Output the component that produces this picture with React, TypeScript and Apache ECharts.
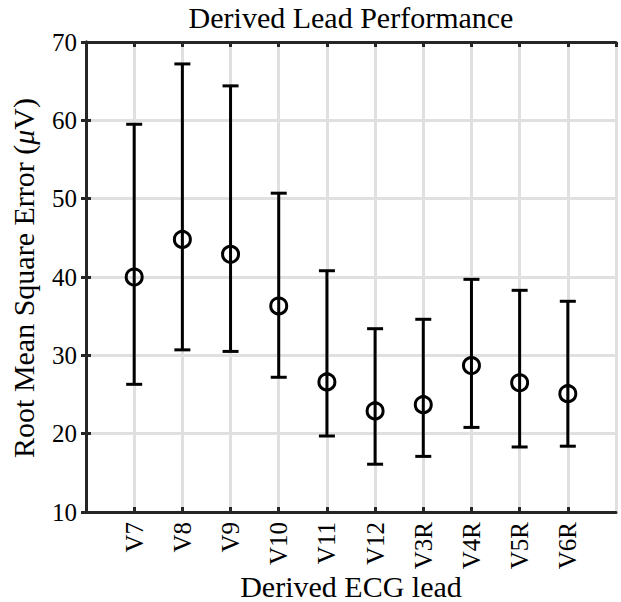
import React, { useEffect, useRef } from "react";
import * as echarts from "echarts";

const categories = ["V7", "V8", "V9", "V10", "V11", "V12", "V3R", "V4R", "V5R", "V6R"];
const meanValues = [40.0, 44.8, 42.9, 36.3, 26.6, 22.9, 23.7, 28.7, 26.5, 25.1];
const upperValues = [59.5, 67.2, 64.4, 50.7, 40.8, 33.4, 34.6, 39.7, 38.3, 36.9];
const lowerValues = [26.3, 30.7, 30.5, 27.2, 19.7, 16.1, 17.1, 20.8, 18.3, 18.4];
const yMin = 10;
const yMax = 70;
const yStep = 10;
const titleText = "Derived Lead Performance";
const xLabelText = "Derived ECG lead";

const FONT = "'Liberation Serif', 'Times New Roman', serif";
const AXIS_COLOR = "#262626";
const GRID_COLOR = "#e0e0e0";

export default function App() {
  const ref = useRef<HTMLDivElement>(null);
  useEffect(() => {
    if (!ref.current) return;
    const chart = echarts.init(ref.current, undefined, { renderer: "svg" });
    const xs = categories.map((_, i) => i + 1);
    const errData = xs.map((x, i) => [x, lowerValues[i], upperValues[i]]);
    const meanData = xs.map((x, i) => [x, meanValues[i]]);

    const commonX = {
      type: "value",
      min: 0,
      max: categories.length + 1,
      interval: 1,
    };
    const commonY = { type: "value", min: yMin, max: yMax, interval: yStep };

    chart.setOption({
      animation: false,
      backgroundColor: "#ffffff",
      grid: { left: 86, right: 5, top: 42, bottom: 90, containLabel: false },
      xAxis: [
        {
          ...commonX,
          position: "bottom",
          axisLine: { show: true, lineStyle: { color: AXIS_COLOR, width: 3 } },
          axisTick: {
            show: true,
            inside: true,
            length: 5,
            lineStyle: { color: AXIS_COLOR, width: 3 },
          },
          splitLine: { show: true, lineStyle: { color: GRID_COLOR, width: 3 } },
          axisLabel: {
            rotate: 90,
            margin: 10,
            fontFamily: FONT,
            fontSize: 25,
            color: "#000",
            showMinLabel: false,
            showMaxLabel: false,
            formatter: (v: number) => categories[Math.round(v) - 1] || "",
          },
        },
        {
          ...commonX,
          position: "top",
          axisLine: { show: true, lineStyle: { color: AXIS_COLOR, width: 3 } },
          axisTick: {
            show: true,
            inside: true,
            length: 5,
            lineStyle: { color: AXIS_COLOR, width: 3 },
          },
          splitLine: { show: false },
          axisLabel: { show: false },
        },
      ],
      yAxis: [
        {
          ...commonY,
          position: "left",
          axisLine: { show: true, lineStyle: { color: AXIS_COLOR, width: 3 } },
          axisTick: {
            show: true,
            inside: true,
            length: 5,
            lineStyle: { color: AXIS_COLOR, width: 3 },
          },
          splitLine: { show: true, lineStyle: { color: GRID_COLOR, width: 3 } },
          axisLabel: { margin: 9, fontFamily: FONT, fontSize: 25, color: "#000" },
        },
        {
          ...commonY,
          position: "right",
          axisLine: { show: true, lineStyle: { color: AXIS_COLOR, width: 3 } },
          axisTick: {
            show: true,
            inside: true,
            length: 5,
            lineStyle: { color: AXIS_COLOR, width: 3 },
          },
          splitLine: { show: false },
          axisLabel: { show: false },
        },
      ],
      graphic: [
        {
          type: "text",
          x: 351,
          y: 17,
          style: {
            text: titleText,
            fontFamily: FONT,
            fontSize: 30,
            fill: "#000",
            textAlign: "center",
            textVerticalAlign: "middle",
          },
        },
        {
          type: "text",
          x: 351,
          y: 586,
          style: {
            text: xLabelText,
            fontFamily: FONT,
            fontSize: 30,
            fill: "#000",
            textAlign: "center",
            textVerticalAlign: "middle",
          },
        },
        {
          type: "text",
          x: 23,
          y: 278,
          rotation: Math.PI / 2,
          style: {
            text: "Root Mean Square Error ({i|μ}V)",
            fontFamily: FONT,
            fontSize: 30,
            fill: "#000",
            textAlign: "center",
            textVerticalAlign: "middle",
            rich: {
              i: { fontFamily: FONT, fontSize: 30, fontStyle: "italic", fill: "#000" },
            },
          },
        },
      ],
      series: [
        {
          type: "custom",
          xAxisIndex: 0,
          yAxisIndex: 0,
          data: errData,
          encode: { x: 0, y: [1, 2] },
          z: 3,
          renderItem: (params: any, api: any) => {
            const x = api.value(0);
            const lo = api.coord([x, api.value(1)]);
            const hi = api.coord([x, api.value(2)]);
            const hw = 8;
            const style = { stroke: "#000", lineWidth: 3 };
            return {
              type: "group",
              children: [
                { type: "line", shape: { x1: lo[0], y1: lo[1], x2: hi[0], y2: hi[1] }, style },
                { type: "line", shape: { x1: hi[0] - hw, y1: hi[1], x2: hi[0] + hw, y2: hi[1] }, style },
                { type: "line", shape: { x1: lo[0] - hw, y1: lo[1], x2: lo[0] + hw, y2: lo[1] }, style },
              ],
            };
          },
        },
        {
          type: "scatter",
          xAxisIndex: 0,
          yAxisIndex: 0,
          data: meanData,
          symbol: "circle",
          symbolSize: 16,
          z: 4,
          itemStyle: { color: "rgba(0,0,0,0)", borderColor: "#000", borderWidth: 3, opacity: 1 },
        },
      ],
    });
    return () => chart.dispose();
  }, []);
  return (
    <div
      ref={ref}
      style={{ position: "fixed", left: 0, top: 0, width: 621, height: 602 }}
    />
  );
}
